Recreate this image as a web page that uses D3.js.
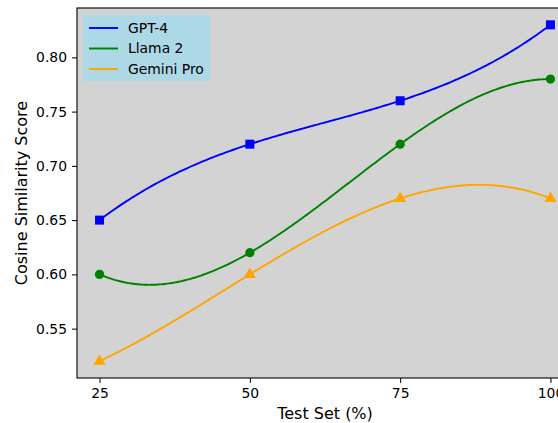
<!DOCTYPE html>
<html>
<head>
<meta charset="utf-8">
<script src="https://cdn.jsdelivr.net/npm/d3@7"></script>
<style>
  body { margin: 0; background: #fff; }
  text { font-family: "DejaVu Sans", sans-serif; fill: #000; }
</style>
</head>
<body>
<div id="chart"></div>
<script>
// data
const testSet = [25, 50, 75, 100];
const gpt4 = [0.65, 0.72, 0.76, 0.83];
const llama2 = [0.60, 0.62, 0.72, 0.78];
const geminiPro = [0.52, 0.60, 0.67, 0.67];
const xTicks = [25, 50, 75, 100];
const yTicks = [0.55, 0.60, 0.65, 0.70, 0.75, 0.80];

const seriesList = [
  { name: 'GPT-4', values: gpt4, color: 'blue', marker: 'square' },
  { name: 'Llama 2', values: llama2, color: 'green', marker: 'circle' },
  { name: 'Gemini Pro', values: geminiPro, color: 'orange', marker: 'triangle' }
];

const width = 558, height = 423;
const margin = { top: 8, left: 77, bottom: 45, right: -15 };
const plotW = width - margin.left - margin.right;
const plotH = height - margin.top - margin.bottom;

const svg = d3.select('#chart').append('svg')
  .attr('width', width)
  .attr('height', height);

const x = d3.scaleLinear().domain([21.25, 103.75]).range([0, plotW]);
const y = d3.scaleLinear().domain([0.5045, 0.8455]).range([plotH, 0]);

const chart = svg.append('g')
  .attr('transform', `translate(${margin.left}, ${margin.top})`);

chart.append('rect')
  .attr('width', plotW)
  .attr('height', plotH)
  .attr('fill', 'lightgray');

// smooth curve through all points (single interpolating polynomial, like a k=3 spline on 4 points)
function polyCurve(context) {
  let pts = [];
  return {
    areaStart() {}, areaEnd() {},
    lineStart() { pts = []; },
    point(px, py) { pts.push([+px, +py]); },
    lineEnd() {
      const n = pts.length;
      const f = t => {
        let s = 0;
        for (let i = 0; i < n; i++) {
          let l = 1;
          for (let j = 0; j < n; j++) if (j !== i) l *= (t - pts[j][0]) / (pts[i][0] - pts[j][0]);
          s += l * pts[i][1];
        }
        return s;
      };
      const x0 = pts[0][0], x1 = pts[n - 1][0], steps = 200;
      for (let k = 0; k <= steps; k++) {
        const t = x0 + (x1 - x0) * k / steps;
        if (k === 0) context.moveTo(t, f(t)); else context.lineTo(t, f(t));
      }
    }
  };
}

const line = d3.line()
  .x(d => x(d[0]))
  .y(d => y(d[1]))
  .curve(polyCurve);

const symbols = {
  square: d3.symbol().type(d3.symbolSquare).size(81),
  circle: d3.symbol().type(d3.symbolCircle).size(68),
  triangle: d3.symbol().type(d3.symbolTriangle).size(64)
};

seriesList.forEach(s => {
  const pts = testSet.map((t, i) => [t, s.values[i]]);
  chart.append('path')
    .attr('d', line(pts))
    .attr('fill', 'none')
    .attr('stroke', s.color)
    .attr('stroke-width', 1.9);
  chart.selectAll(null)
    .data(pts)
    .enter()
    .append('path')
    .attr('d', symbols[s.marker]())
    .attr('transform', d => `translate(${x(d[0])}, ${y(d[1])})`)
    .attr('fill', s.color);
});

// axes
const xAxis = chart.append('g')
  .attr('transform', `translate(0, ${plotH})`)
  .call(d3.axisBottom(x).tickValues(xTicks).tickSize(5).tickPadding(5).tickFormat(d3.format('d')));
const yAxis = chart.append('g')
  .call(d3.axisLeft(y).tickValues(yTicks).tickSize(5).tickPadding(5).tickFormat(d3.format('.2f')));
[xAxis, yAxis].forEach(a => {
  a.select('.domain').remove();
  a.selectAll('text').style('font-size', '13.9px').style('font-family', '"DejaVu Sans", sans-serif');
  a.selectAll('line').attr('stroke', '#000').attr('stroke-width', 1);
});

// frame
chart.append('rect')
  .attr('width', plotW)
  .attr('height', plotH)
  .attr('fill', 'none')
  .attr('stroke', '#000')
  .attr('stroke-width', 1.1);

// axis labels
svg.append('text')
  .attr('x', margin.left + plotW / 2)
  .attr('y', 419)
  .attr('text-anchor', 'middle')
  .style('font-size', '16px')
  .text('Test Set (%)');
svg.append('text')
  .attr('transform', `translate(27, ${margin.top + plotH / 2}) rotate(-90)`)
  .attr('text-anchor', 'middle')
  .style('font-size', '16px')
  .text('Cosine Similarity Score');

// legend
const legend = chart.append('g').attr('transform', 'translate(6, 7)');
legend.append('rect')
  .attr('width', 127)
  .attr('height', 66)
  .attr('fill', 'lightblue')
  .attr('rx', 2);
seriesList.forEach((s, i) => {
  const row = legend.append('g').attr('transform', `translate(6, ${13 + i * 20.5})`);
  row.append('line')
    .attr('x1', 0).attr('x2', 29)
    .attr('stroke', s.color)
    .attr('stroke-width', 1.9);
  row.append('text')
    .attr('x', 39)
    .attr('dy', '0.35em')
    .style('font-size', '13.9px')
    .text(s.name);
});
</script>
</body>
</html>
